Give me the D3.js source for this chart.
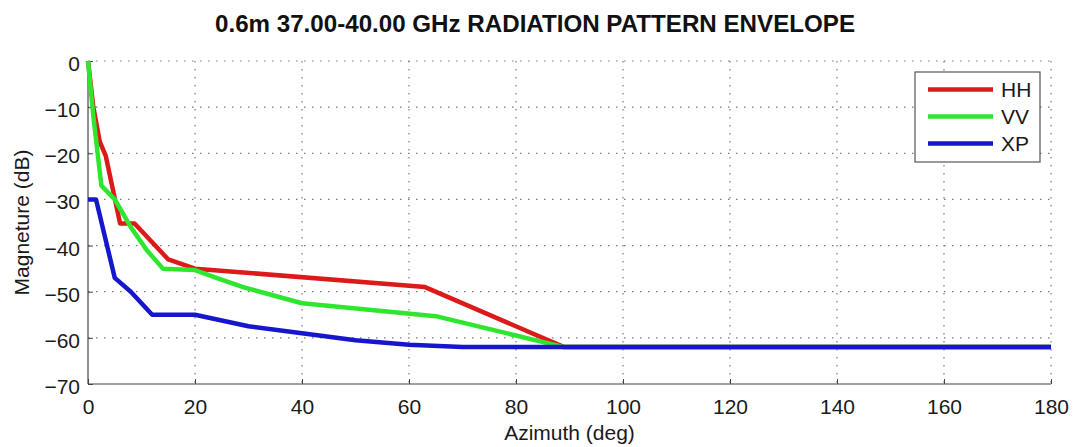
<!DOCTYPE html>
<html>
<head>
<meta charset="utf-8">
<script src="https://cdn.jsdelivr.net/npm/d3@7"></script>
<style>
  html, body { margin: 0; padding: 0; background: #fff; }
  svg { display: block; font-family: "Liberation Sans", Arial, sans-serif; }
</style>
</head>
<body>
<div id="chart"></div>
<script>
// Envelope values (azimuth in deg, level in dB)
const hhAzimuth = [0, 1, 2.2, 3.3, 6, 8.7, 15, 20, 63, 89, 180];
const hhLevel = [0, -10, -17.5, -20.5, -35.2, -35.2, -43, -45, -49, -62, -62];

const vvAzimuth = [0, 1, 2.5, 5, 8, 11, 14, 20, 24, 29, 40, 65, 89, 180];
const vvLevel = [0, -12, -27, -30, -36, -41, -45, -45.3, -47, -49, -52.5, -55.3, -62, -62];

const xpAzimuth = [0, 1.5, 5, 8, 12, 20, 30, 40, 50, 60, 70, 180];
const xpLevel = [-30, -30, -47, -50, -55, -55, -57.5, -59, -60.5, -61.5, -62, -62];

const seriesNames = ["HH", "VV", "XP"];
const xTicks = [0, 20, 40, 60, 80, 100, 120, 140, 160, 180];
const yTicks = [0, -10, -20, -30, -40, -50, -60, -70];

const title = "0.6m 37.00-40.00 GHz RADIATION PATTERN ENVELOPE";
const xLabel = "Azimuth (deg)";
const yLabel = "Magneture (dB)";

const width = 1078;
const height = 447;
const margin = { top: 61, right: 27, bottom: 63, left: 88 };
const innerWidth = width - margin.left - margin.right;
const innerHeight = height - margin.top - margin.bottom;

const colors = { HH: "#dc1a1a", VV: "#2fe62f", XP: "#1616cc" };
const labelSize = "21px";

const series = [
  { name: "HH", values: hhAzimuth.map((a, i) => ({ az: a, db: hhLevel[i] })) },
  { name: "VV", values: vvAzimuth.map((a, i) => ({ az: a, db: vvLevel[i] })) },
  { name: "XP", values: xpAzimuth.map((a, i) => ({ az: a, db: xpLevel[i] })) },
];

const svg = d3
  .select("#chart")
  .append("svg")
  .attr("width", width)
  .attr("height", height);

const x = d3.scaleLinear().domain([0, 180]).range([0, innerWidth]);
const y = d3.scaleLinear().domain([-70, 0]).range([innerHeight, 0]);

const g = svg
  .append("g")
  .attr("transform", `translate(${margin.left},${margin.top})`);

// Dotted grid
g.append("g")
  .selectAll("line")
  .data(xTicks.filter((t) => t !== 0))
  .join("line")
  .attr("x1", (d) => x(d))
  .attr("x2", (d) => x(d))
  .attr("y1", 0)
  .attr("y2", innerHeight)
  .attr("stroke", "#7a7a7a")
  .attr("stroke-width", 1.2)
  .attr("stroke-dasharray", "1.5,6.5");

g.append("g")
  .selectAll("line")
  .data(yTicks.filter((t) => t !== -70))
  .join("line")
  .attr("x1", 0)
  .attr("x2", innerWidth)
  .attr("y1", (d) => y(d))
  .attr("y2", (d) => y(d))
  .attr("stroke", "#7a7a7a")
  .attr("stroke-width", 1.2)
  .attr("stroke-dasharray", "1.5,6.5");

// Axes (ticks pointing inward, like the original)
const xAxis = d3.axisBottom(x).tickValues(xTicks).tickSize(-5).tickPadding(15);
const yAxis = d3.axisLeft(y).tickValues(yTicks).tickSize(-5).tickPadding(8);

const gx = g
  .append("g")
  .attr("transform", `translate(0,${innerHeight})`)
  .call(xAxis);
const gy = g.append("g").call(yAxis);

[gx, gy].forEach((ax) => {
  ax.select(".domain").attr("stroke", "#444").attr("stroke-width", 1.2);
  ax.selectAll(".tick line").attr("stroke", "#444");
  ax.selectAll(".tick text")
    .attr("fill", "#1a1a1a")
    .style("font-size", labelSize);
});
gx.select(".domain").attr("d", `M0,0H${innerWidth}`);
gy.select(".domain").attr("d", `M0,${innerHeight}V0`);
gy.selectAll(".tick text").attr("dy", "0.45em");

// Lines
const line = d3
  .line()
  .x((d) => x(d.az))
  .y((d) => y(d.db));

g.append("g")
  .selectAll("path")
  .data(series)
  .join("path")
  .attr("fill", "none")
  .attr("stroke", (d) => colors[d.name])
  .attr("stroke-width", 4.5)
  .attr("stroke-linejoin", "round")
  .attr("d", (d) => line(d.values));

// Legend
const legend = svg.append("g").attr("transform", "translate(915,72)");
legend
  .append("rect")
  .attr("width", 125)
  .attr("height", 90)
  .attr("fill", "#fff")
  .attr("stroke", "#555")
  .attr("stroke-width", 1.2);

const item = legend
  .selectAll("g.item")
  .data(seriesNames)
  .join("g")
  .attr("class", "item")
  .attr("transform", (d, i) => `translate(0,${17.5 + i * 27})`);

item
  .append("line")
  .attr("x1", 13)
  .attr("x2", 78)
  .attr("stroke", (d) => colors[d])
  .attr("stroke-width", 4.5);

item
  .append("text")
  .attr("x", 86)
  .attr("dy", "0.35em")
  .attr("fill", "#1a1a1a")
  .style("font-size", labelSize)
  .text((d) => d);

// Titles
svg
  .append("text")
  .attr("x", 535)
  .attr("y", 32)
  .attr("text-anchor", "middle")
  .attr("fill", "#111")
  .attr("textLength", 640)
  .attr("lengthAdjust", "spacingAndGlyphs")
  .style("font-size", "23px")
  .style("font-weight", "bold")
  .text(title);

svg
  .append("text")
  .attr("x", margin.left + innerWidth / 2)
  .attr("y", 440)
  .attr("text-anchor", "middle")
  .attr("fill", "#1a1a1a")
  .style("font-size", labelSize)
  .text(xLabel);

svg
  .append("text")
  .attr("transform", `translate(29,${margin.top + innerHeight / 2}) rotate(-90)`)
  .attr("text-anchor", "middle")
  .attr("fill", "#1a1a1a")
  .style("font-size", labelSize)
  .text(yLabel);
</script>
</body>
</html>
